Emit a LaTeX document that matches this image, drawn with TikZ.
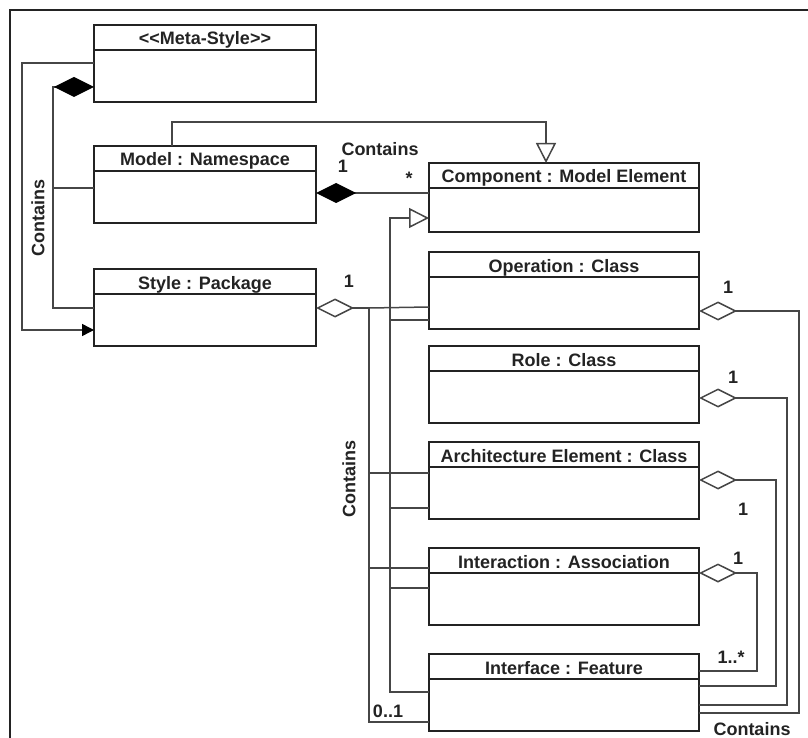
\documentclass[tikz,border=0pt]{standalone}
\usepackage{fontspec}
\usepackage{tikz}
\usetikzlibrary{arrows.meta, positioning, calc}
\newfontfamily\umlfont{Liberation Sans}
\definecolor{umlline}{RGB}{35, 35, 35}
\definecolor{linkgray}{RGB}{70, 70, 70}

\tikzset{
  umlbox/.style={draw=umlline, line width=1.6pt, inner sep=0pt, outer sep=0pt, text height=20pt, text depth=57pt,
    path picture={\draw[umlline, line width=1.6pt] ([yshift=-25pt]path picture bounding box.north west) -- ([yshift=-25pt]path picture bounding box.north east);}},
  leftbox/.style={umlbox, minimum width=222pt},
  rightbox/.style={umlbox, minimum width=270pt},
  link/.style={draw=linkgray, line width=1.5pt},
  composite/.style={link, -{Diamond[length=40pt, width=20pt, color=black, fill=black]}},
  aggregate/.style={link, -{Diamond[open, length=38pt, width=19pt]}},
  generalize/.style={link, -{Triangle[open, length=20pt, width=20pt]}},
  contains/.style={link, -{Triangle[length=12pt, width=12pt, color=black, fill=black]}},
  tag/.style={inner sep=1pt}
}

\begin{document}
\begin{tikzpicture}[x=1pt, y=-1pt, font=\umlfont\bfseries\fontsize{18}{21}\selectfont, text=umlline]
\useasboundingbox (0,0) rectangle (808,738);
\draw[umlline, line width=1.6pt] (10,738) -- (10,10) -- (808,10);

% left column
\node[leftbox, anchor=north west] (meta) at (94,25) {<<Meta-Style>>};
\node[leftbox, below=44pt of meta] (model) {Model : Namespace};
\node[leftbox, below=46pt of model] (style) {Style : Package};

% right column
\node[rightbox, text depth=49pt, anchor=north west] (comp) at (429,163) {Component : Model Element};
\node[rightbox, below=20pt of comp] (oper) {Operation : Class};
\node[rightbox, below=17pt of oper] (role) {Role : Class};
\node[rightbox, below=19pt of role] (arch) {Architecture Element : Class};
\node[rightbox, below=29pt of arch] (inter) {Interaction : Association};
\node[rightbox, below=29pt of inter] (iface) {Interface : Feature};

% meta-style relations
\draw[contains] ($(meta.north west)+(0,38)$) -| ($(style.north west)+(-72,61)$) -- ($(style.north west)+(0,61)$);
\draw[composite] ($(style.north west)+(0,39)$) -| ($(meta.north west)+(-41,62)$) -- ($(meta.north west)+(0,62)$);
\draw[link] ($(model.north west)+(-41,42)$) -- ($(model.north west)+(0,42)$);
\node[tag, rotate=90] (leftcontains) at (38,218) {Contains};

% model and component
\draw[generalize] ($(model.north west)+(78,0)$) -- ($(model.north west)+(78,-24)$) -| ($(comp.north west)+(117,0)$);
\draw[composite] ($(comp.north west)+(0,30)$) -- ($(model.north east)+(0,47)$);
\node[tag] (topcontains) at (380,149) {Contains};
\node[tag] (modelone) at (343,166) {1};
\node[tag] (compmany) at (409,178) {*};

% generalization tree
\draw[generalize] ($(iface.north west)+(0,38)$) -| ($(comp.north west)+(-39,55)$) -- ($(comp.north west)+(0,55)$);
\draw[link] ($(oper.north west)+(-39,68)$) -- ($(oper.north west)+(0,68)$);
\draw[link] ($(arch.north west)+(-39,66)$) -- ($(arch.north west)+(0,66)$);
\draw[link] ($(inter.north west)+(-39,40)$) -- ($(inter.north west)+(0,40)$);

% style aggregation tree
\draw[aggregate] ($(iface.north west)+(0,68)$) -| ($(style.north east)+(53,39)$) -- ($(style.north east)+(0,39)$);
\draw[link] ($(style.north east)+(53,39)$) -- ($(oper.north west)+(0,55)$);
\draw[link] ($(arch.north west)+(-60,31)$) -- ($(arch.north west)+(0,31)$);
\draw[link] ($(inter.north west)+(-60,20)$) -- ($(inter.north west)+(0,20)$);
\node[tag] (styleone) at (349,281) {1};
\node[tag, rotate=90] (midcontains) at (349,479) {Contains};
\node[tag] (ifaceopt) at (388,711) {0..1};

% interface aggregations
\draw[aggregate] ($(iface.north east)+(0,59)$) -| ($(oper.north east)+(100,59)$) -- ($(oper.north east)+(0,59)$);
\draw[aggregate] ($(iface.north east)+(0,51)$) -| ($(role.north east)+(88,52)$) -- ($(role.north east)+(0,52)$);
\draw[aggregate] ($(iface.north east)+(0,32)$) -| ($(arch.north east)+(77,38)$) -- ($(arch.north east)+(0,38)$);
\draw[aggregate] ($(iface.north east)+(0,17)$) -| ($(inter.north east)+(58,25)$) -- ($(inter.north east)+(0,25)$);
\node[tag] (operone) at (728,287) {1};
\node[tag] (roleone) at (733,377) {1};
\node[tag] (archone) at (743,509) {1};
\node[tag] (interone) at (738,558) {1};
\node[tag] (ifacemany) at (731,657) {1..*};
\node[tag] (rightcontains) at (752,729) {Contains};
\end{tikzpicture}
\end{document}
